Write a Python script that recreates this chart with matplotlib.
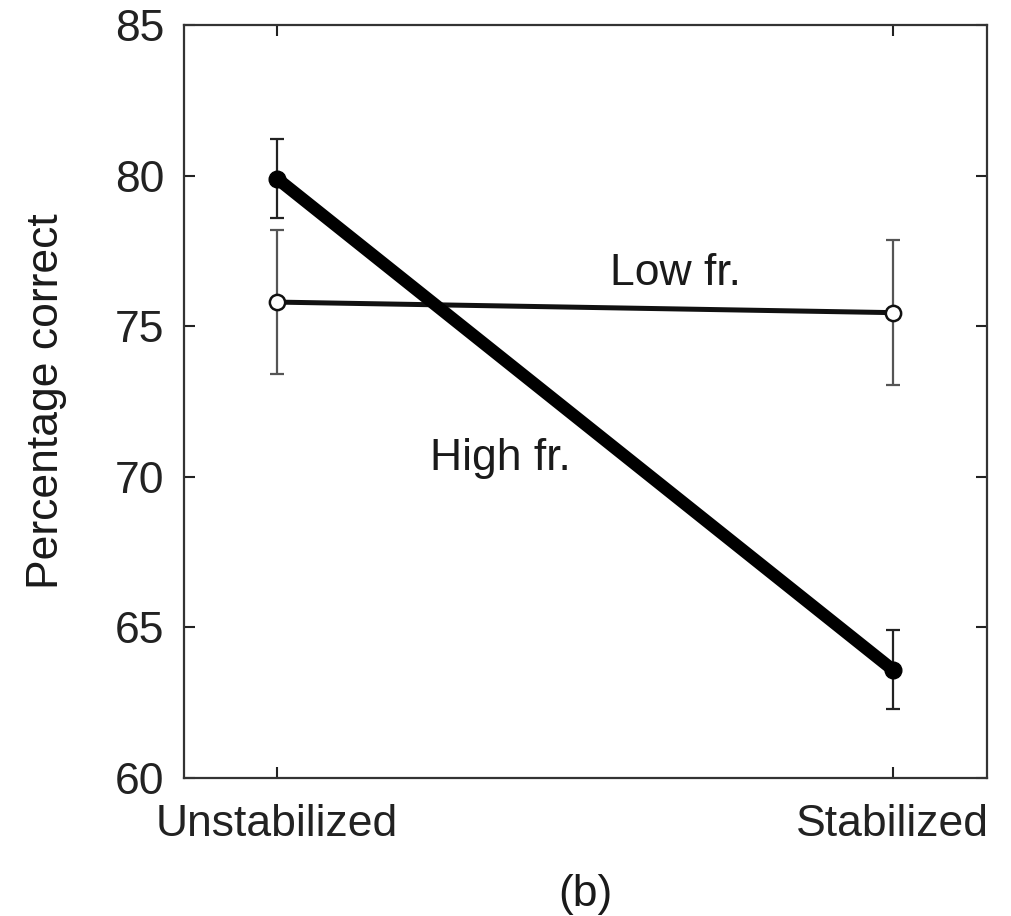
import numpy as np
import matplotlib
matplotlib.use('Agg')
import matplotlib.pyplot as plt

plt.rcParams['font.family'] = ['Liberation Sans', 'DejaVu Sans']

conditions = ['Unstabilized', 'Stabilized']
high_mean = [79.9, 63.6]
high_err = [1.3, 1.3]
low_mean = [75.8, 75.45]
low_err = [2.4, 2.4]

fig = plt.figure(figsize=(10.12, 9.16), dpi=100)
ax = fig.add_axes([0.182, 0.1507, 0.793, 0.822])

x = np.arange(len(conditions))

# low spatial frequency: thin line, open markers
ax.errorbar(x, low_mean, yerr=low_err, fmt='none', ecolor='#555555',
            elinewidth=1.6, capsize=5, capthick=1.6, zorder=2)
ax.plot(x, low_mean, color='#111111', lw=3.6, marker='o', ms=11,
        mfc='white', mec='#111111', mew=1.8, zorder=3)

# high spatial frequency: thick line, filled markers
ax.errorbar(x, high_mean, yerr=high_err, fmt='none', ecolor='#222222',
            elinewidth=1.6, capsize=5, capthick=1.6, zorder=2)
ax.plot(x, high_mean, color='black', lw=9, marker='o', ms=12,
        mfc='black', mec='black', zorder=4, solid_capstyle='round')

ax.text(0.541, 76.37, 'Low fr.', fontsize=32, ha='left', va='baseline',
        color='#1a1a1a')
ax.text(0.248, 70.23, 'High fr.', fontsize=32, ha='left', va='baseline',
        color='#1a1a1a')

ax.set_xlim(-0.151, 1.153)
ax.set_ylim(60, 85)
ax.set_xticks(x)
ax.set_xticklabels(conditions)
ax.set_yticks(np.arange(60, 86, 5))
ax.tick_params(direction='in', length=8, width=1.5, top=True, right=True,
               labelsize=32, colors='#222222')
ax.tick_params(axis='y', pad=14)
ax.tick_params(axis='x', pad=19)
for s in ax.spines.values():
    s.set_linewidth(1.6)
    s.set_color('#333333')

fig.text(0.046, 0.562, 'Percentage correct', fontsize=32, rotation=90,
         ha='center', va='center', color='#1a1a1a')
fig.text(0.578, 0.023, '(b)', fontsize=32, ha='center', va='center',
         color='#1a1a1a')

fig.savefig('out.png', dpi=100)
